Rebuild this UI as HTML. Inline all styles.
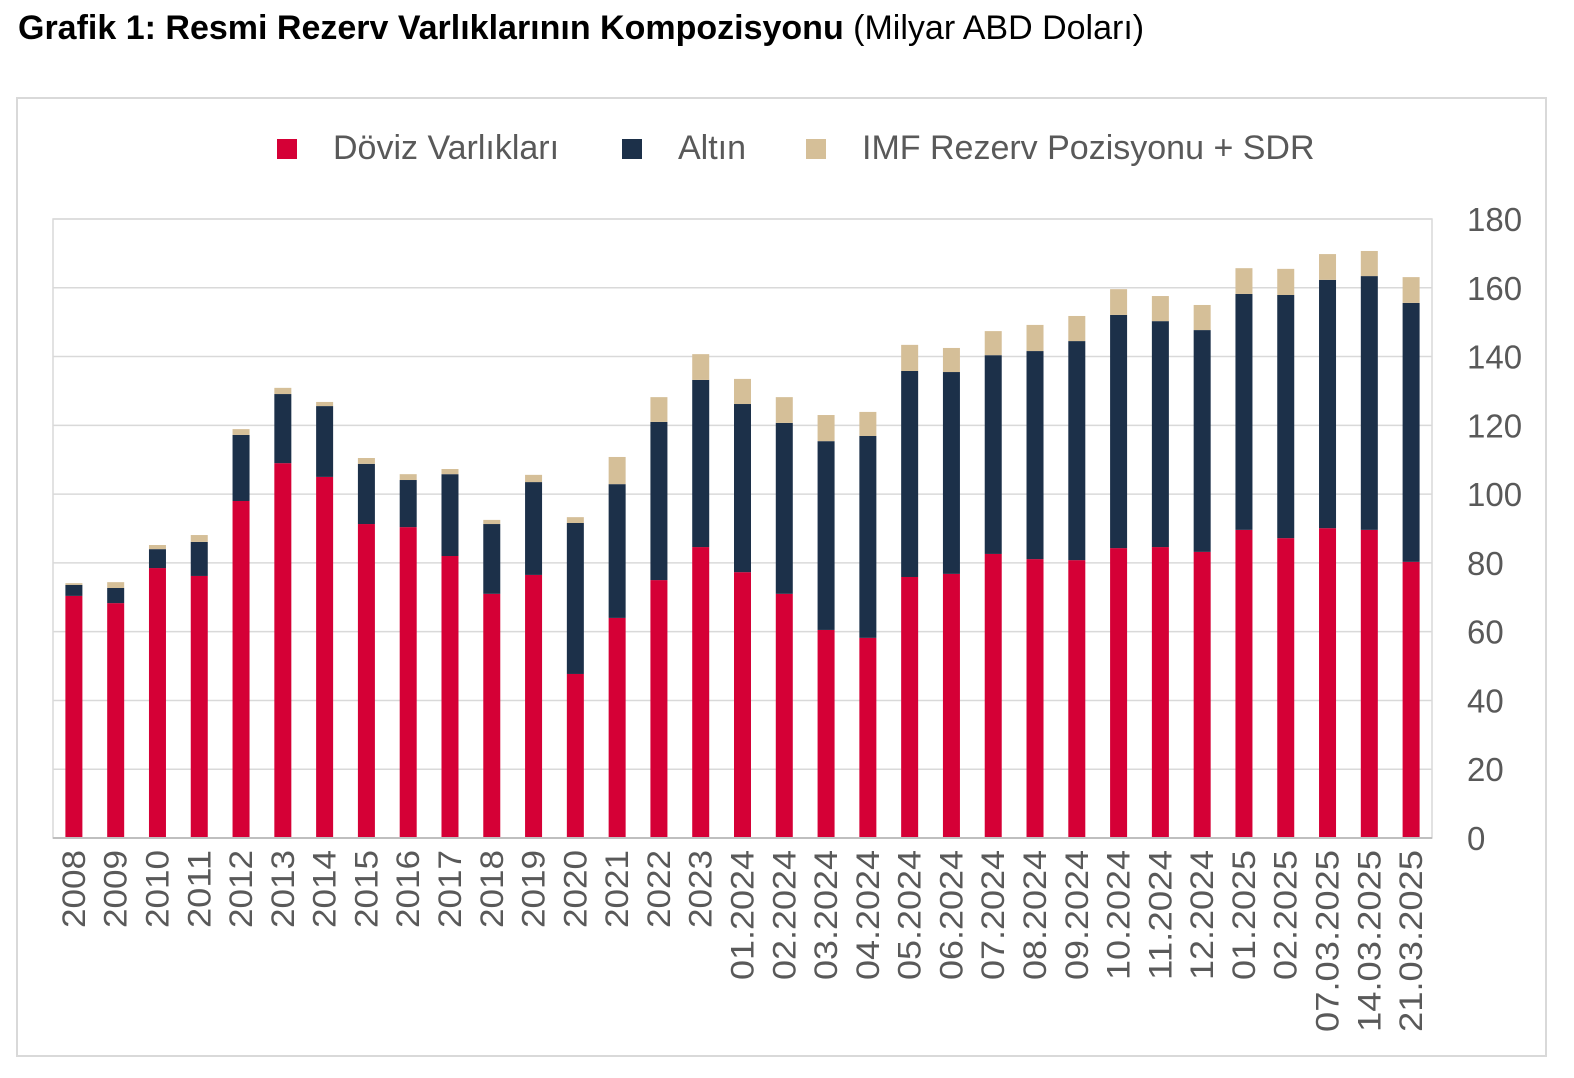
<!DOCTYPE html>
<html><head><meta charset="utf-8">
<style>
html,body{margin:0;padding:0;background:#fff;}
body{width:1574px;height:1078px;position:relative;overflow:hidden;font-family:"Liberation Sans",sans-serif;}
#title{position:absolute;left:18px;top:9px;font-size:34px;color:#000;white-space:nowrap;}
#title b{font-weight:bold;}
#frame{position:absolute;left:16px;top:97px;width:1527px;height:956px;border:2px solid #d9d9d9;}
svg{position:absolute;left:0;top:0;}
</style></head><body>
<div id="title"><b>Grafik 1: Resmi Rezerv Varlıklarının Kompozisyonu</b> (Milyar ABD Doları)</div>
<div id="frame"></div>
<svg id="chart" width="1574" height="1078"></svg>
<script>
const categories=["2008","2009","2010","2011","2012","2013","2014","2015","2016","2017","2018","2019","2020","2021","2022","2023","01.2024","02.2024","03.2024","04.2024","05.2024","06.2024","07.2024","08.2024","09.2024","10.2024","11.2024","12.2024","01.2025","02.2025","07.03.2025","14.03.2025","21.03.2025"];
const doviz=[70.4,68.3,78.5,76.2,98,109,105,91.3,90.4,82,71,76.5,47.7,64,75,84.6,77.3,71,60.5,58.2,75.9,76.8,82.6,81.1,80.8,84.3,84.6,83.2,89.6,87.2,90.1,89.6,80.3];
const altin=[3.2,4.4,5.5,9.9,19.2,20.1,20.6,17.5,13.7,23.8,20.3,27,43.9,38.9,46,48.6,48.9,49.7,54.9,58.7,59.9,58.7,57.8,60.5,63.7,67.8,65.7,64.5,68.6,70.7,72.2,73.8,75.3];
const imf=[0.5,1.7,1.2,2,1.7,1.8,1.2,1.7,1.7,1.5,1.2,2.1,1.7,7.9,7.2,7.5,7.3,7.5,7.6,7,7.6,7,7,7.6,7.3,7.5,7.3,7.3,7.5,7.6,7.5,7.3,7.5];
const yTicks=[0,20,40,60,80,100,120,140,160,180];
const legendLabels=["Döviz Varlıkları","Altın","IMF Rezerv Pozisyonu + SDR"];
const colors=["#d50036","#1c3049","#d5bf98"];
const NS="http://www.w3.org/2000/svg";
const svg=document.getElementById('chart');
const X0=53,X1=1432,Y0=838,Y1=219,YMAX=180;
const y=v=>Y0-(v/YMAX)*(Y0-Y1);
const step=(X1-X0)/categories.length;
const xc=i=>X0+step*(i+0.5);
const BW=17;
function mk(t,a){const e=document.createElementNS(NS,t);for(const k in a)e.setAttribute(k,a[k]);svg.appendChild(e);return e;}
yTicks.forEach(t=>{
  const g=mk('line',{x1:X0,x2:X1,y1:y(t),y2:y(t),stroke:'#d9d9d9','stroke-width':1.5});
  
  
  const tx=mk('text',{x:1467,y:y(t)+12,'font-size':33,fill:'#595959','font-family':'Liberation Sans, sans-serif'});
  tx.textContent=t;
  
  
});
const border=mk('rect',{x:X0,y:Y1,width:X1-X0,height:Y0-Y1,fill:'none',stroke:'#d9d9d9','stroke-width':1.5});


categories.forEach((c,i)=>{
  const vals=[doviz[i],altin[i],imf[i]];let base=0;
  vals.forEach((v,s)=>{
    const r=mk('rect',{x:xc(i)-BW/2,y:y(base+v),width:BW,height:y(base)-y(base+v),fill:colors[s]});
    
    
    base+=v;
  });
  let len=0;for(const ch of c)len+=(ch==='.'?13:19.5);
  const tx=mk('text',{x:0,y:0,'font-size':32,fill:'#595959','text-anchor':'end',textLength:len,lengthAdjust:'spacingAndGlyphs','font-family':'Liberation Sans, sans-serif',transform:`translate(${xc(i)+11},850) rotate(-90)`});
  tx.textContent=c;
  
  
});
const ax=mk('line',{x1:X0,x2:X1,y1:Y0,y2:Y0,stroke:'#bfbfbf','stroke-width':2});


const legX=[277,622,806];
legendLabels.forEach((l,i)=>{
  const r=mk('rect',{x:legX[i],y:139,width:20,height:20,fill:colors[i]});
  
  
  const t=mk('text',{x:legX[i]+56,y:159,'font-size':34,fill:'#595959','font-family':'Liberation Sans, sans-serif'});
  t.textContent=l;
  
  
});
</script>
</body></html>
